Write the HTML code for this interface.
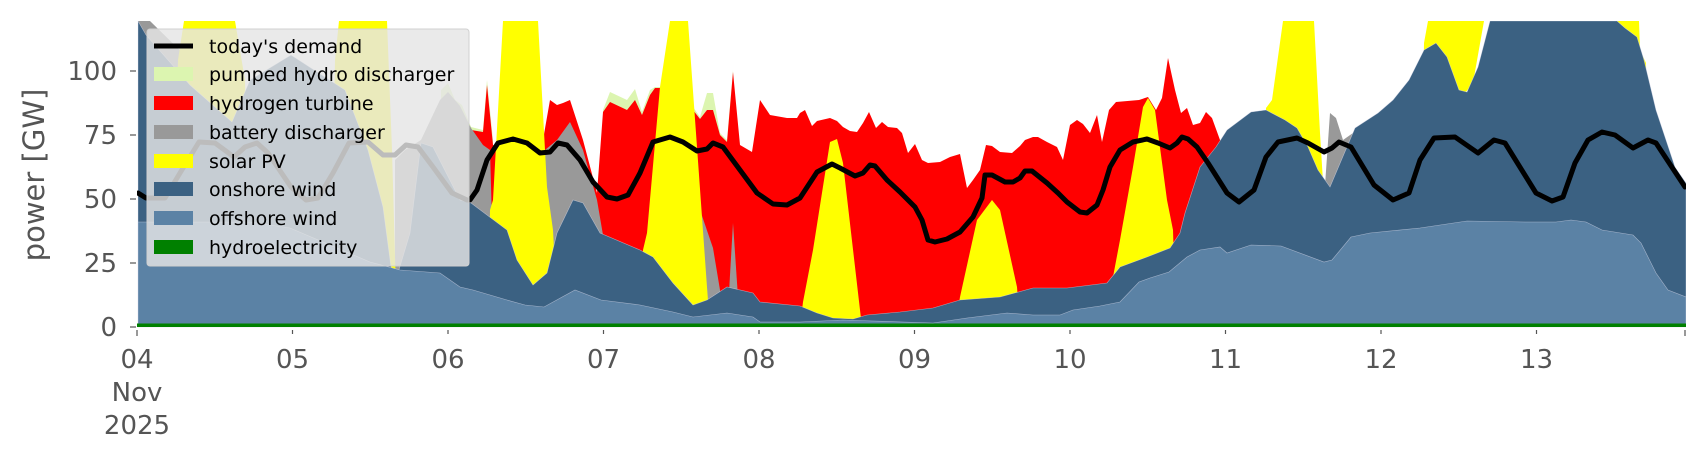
<!DOCTYPE html>
<html><head><meta charset="utf-8"><style>
html,body{margin:0;padding:0;background:#fff;}
svg{display:block;}
text{font-family:"DejaVu Sans","Liberation Sans",sans-serif;}
</style></head><body>
<svg width="1706" height="460" viewBox="0 0 1706 460" xmlns="http://www.w3.org/2000/svg">
<defs><clipPath id="c"><rect x="137" y="21" width="1549" height="310"/></clipPath></defs>
<g clip-path="url(#c)">
<g fill="#dcf5b0">
<polygon points="440,327 441,90 448,83 455,100 462,105 471,127 483,130 487,80 493,140 493,327"/>
<polygon points="603,327 603,110 610,92 627,100 635,89 642,112 650,90 655,87 662,87 662,327"/>
<polygon points="693,327 693,107 700,117 707,93 713,93 720,133 727,140 733,70 740,327"/>
</g>
<polygon fill="#ff0000" points="440,327 440,115 448,100 455,110 462,112 471,130 483,132 487,85 493,145 500,150 543,140 550,100 557,105 563,103 570,100 583,140 597,193 603,112 610,102 627,110 635,100 642,115 650,95 655,88 662,88 670,90 693,110 700,119 707,110 713,110 720,135 727,142 733,72 740,145 752,152 760,100 770,115 787,118 797,118 800,113 805,110 812,126 817,121 830,118 837,121 843,127 850,131 857,132 863,123 869,112 876,128 882,122 888,127 897,128 902,133 908,153 915,144 922,160 928,163 940,162 950,157 960,154 967,188 973,180 980,170 986,145 992,146 1000,152 1012,153 1020,146 1025,140 1033,137 1038,137 1047,142 1057,147 1063,160 1070,125 1077,120 1083,124 1090,133 1097,115 1102,142 1109,110 1116,102 1139,100 1148,97 1156,110 1162,98 1168,58 1175,90 1181,113 1187,108 1193,125 1200,123 1206,112 1212,118 1220,140 1226,145 1226,327"/>
<g fill="#999999">
<polygon points="138,327 138,21 150,21 200,70 237,110 245,327"/>
<polygon points="395,327 395,160 405,150 421,140 440,100 448,92 460,106 471,128 483,145 490,150 495,327"/>
<polygon points="540,327 545,150 557,140 570,122 583,150 597,200 603,235 610,327"/>
<polygon points="697,327 700,210 713,248 720,290 725,327"/>
<polygon points="727,327 733,223 740,327"/>
<polygon points="1320,327 1324,200 1330,113 1336,118 1343,140 1353,133 1360,327"/>
</g>
<g fill="#ffff00">
<polygon points="170,327 178,60 184,21 235,21 245,80 250,327"/>
<polygon points="330,327 335,60 339,21 387,21 392,150 397,327"/>
<polygon points="488,327 490,210 493,200 503,21 538,21 547,187 553,230 558,327"/>
<polygon points="640,327 643,250 647,233 660,87 670,21 688,21 697,147 707,287 710,327"/>
<polygon points="800,327 803,302 813,250 830,142 837,139 843,163 860,310 862,327"/>
<polygon points="955,327 960,297 977,220 992,200 1000,210 1017,287 1020,327"/>
<polygon points="1110,327 1113,277 1120,240 1133,167 1143,107 1148,98 1155,110 1167,200 1173,230 1176,327"/>
<polygon points="1262,327 1266,108 1272,100 1283,21 1314,21 1320,133 1324,198 1330,197 1332,327"/>
<polygon points="1420,327 1424,43 1428,21 1484,21 1473,83 1465,93 1460,327"/>
<polygon points="1612,327 1615,21 1639,21 1640,50 1646,63 1650,327"/>
</g>
<polygon fill="#3b6182" stroke="#dde" stroke-width="0.6" stroke-opacity="0.6" points="138,327 138,21 146,35 190,85 232,122 250,80 291,55 345,90 368,150 383,207 391,267 398,273 410,233 421,143 433,147 460,200 471,203 507,230 517,260 533,285 547,273 557,233 573,200 583,203 600,233 640,250 653,257 673,283 693,305 707,300 727,287 753,293 760,302 800,306 817,313 833,318 853,319 867,315 900,312 933,308 960,300 1000,297 1033,288 1067,288 1107,283 1120,267 1147,257 1170,248 1180,233 1185,213 1200,167 1216,147 1227,130 1251,112 1266,110 1285,120 1297,128 1308,147 1318,170 1330,187 1355,128 1378,113 1393,100 1409,80 1424,50 1436,43 1447,57 1459,90 1467,92 1478,67 1490,21 1617,21 1625,28 1637,37 1644,60 1656,110 1675,167 1686,183 1686,327"/>
<polygon fill="#5b82a5" stroke="#dde" stroke-width="0.6" stroke-opacity="0.6" points="138,327 138,222 250,222 290,228 330,245 370,262 400,270 440,273 460,287 473,290 507,300 525,305 544,307 575,290 601,300 640,305 673,312 693,317 727,313 753,317 760,322 800,322 843,320 933,323 967,318 1007,313 1033,315 1060,315 1073,310 1100,306 1120,302 1139,282 1150,278 1169,272 1187,257 1200,250 1220,247 1227,253 1251,245 1281,246 1324,262 1332,260 1351,237 1370,233 1420,228 1467,221 1525,222 1556,222 1571,220 1586,222 1602,230 1633,235 1641,243 1656,273 1668,290 1686,297 1686,327"/>
<rect x="137" y="323.5" width="1549" height="3.5" fill="#008000"/>
<polyline fill="none" stroke="#000" stroke-width="5" stroke-linejoin="round" stroke-linecap="round" points="138,193 146,198 165,198 180,173 199,142 215,143 234,157 245,147 257,143 268,153 291,187 306,200 318,198 333,173 349,143 368,142 383,155 395,155 406,145 418,147 433,167 452,193 467,200 470,200 477,190 487,160 498,143 513,139 527,143 540,153 550,152 558,143 567,145 580,160 593,182 607,197 617,199 628,195 640,173 653,142 670,137 683,142 697,151 707,149 713,143 723,147 740,170 757,193 773,204 787,205 800,198 817,172 832,164 840,168 855,176 863,173 870,165 875,166 887,180 900,192 915,207 922,220 928,240 935,242 947,239 960,232 973,217 982,198 985,175 992,175 1005,182 1013,182 1020,178 1025,171 1032,171 1047,183 1058,193 1067,202 1080,212 1087,213 1097,205 1103,190 1110,167 1120,150 1133,142 1147,139 1158,143 1170,148 1177,143 1182,137 1188,139 1197,147 1208,163 1227,193 1239,202 1254,190 1266,157 1278,142 1297,138 1308,143 1324,152 1332,148 1339,142 1351,147 1374,185 1393,200 1409,193 1420,160 1434,138 1455,137 1478,153 1494,140 1505,143 1536,193 1552,201 1563,197 1575,163 1588,140 1602,132 1615,135 1633,148 1648,140 1656,143 1685,187"/>
</g>
<g stroke="#555" stroke-width="1.2">
<line x1="130" y1="327" x2="136" y2="327"/><line x1="130" y1="263" x2="136" y2="263"/><line x1="130" y1="199" x2="136" y2="199"/><line x1="130" y1="135" x2="136" y2="135"/><line x1="130" y1="71" x2="136" y2="71"/>
<line x1="137" y1="330" x2="137" y2="336"/><line x1="292.5" y1="330" x2="292.5" y2="334"/><line x1="448" y1="330" x2="448" y2="334"/><line x1="603.5" y1="330" x2="603.5" y2="334"/><line x1="759" y1="330" x2="759" y2="334"/><line x1="914.5" y1="330" x2="914.5" y2="334"/><line x1="1070" y1="330" x2="1070" y2="334"/><line x1="1225.5" y1="330" x2="1225.5" y2="334"/><line x1="1381" y1="330" x2="1381" y2="334"/><line x1="1536.5" y1="330" x2="1536.5" y2="334"/><line x1="1685" y1="330" x2="1685" y2="336"/>
</g>
<g fill="#555" font-size="26" text-anchor="end">
<text x="117" y="336">0</text><text x="117" y="272">25</text><text x="117" y="208">50</text><text x="117" y="144">75</text><text x="117" y="80">100</text>
</g>
<g fill="#555" font-size="26" text-anchor="middle">
<text x="137" y="368">04</text><text x="137" y="401">Nov</text><text x="137" y="434">2025</text>
<text x="292.5" y="368">05</text><text x="448" y="368">06</text><text x="603.5" y="368">07</text><text x="759" y="368">08</text><text x="914.5" y="368">09</text><text x="1070" y="368">10</text><text x="1225.5" y="368">11</text><text x="1381" y="368">12</text><text x="1536.5" y="368">13</text>
</g>
<text transform="translate(44,175) rotate(-90)" fill="#555" font-size="29" text-anchor="middle">power [GW]</text>
<rect x="147" y="29" width="322" height="237" rx="3" fill="#e5e5e5" fill-opacity="0.82" stroke="#d0d0d0" stroke-width="1"/>
<line x1="154" y1="46" x2="193" y2="46" stroke="#000" stroke-width="5"/>
<rect x="154" y="67" width="39" height="14" fill="#dcf5b0"/>
<rect x="154" y="96" width="39" height="14" fill="#ff0000"/>
<rect x="154" y="125" width="39" height="14" fill="#999999"/>
<rect x="154" y="154" width="39" height="14" fill="#ffff00"/>
<rect x="154" y="182" width="39" height="14" fill="#3b6182"/>
<rect x="154" y="211" width="39" height="14" fill="#5b82a5"/>
<rect x="154" y="240" width="39" height="14" fill="#008000"/>
<g font-size="19" fill="#000">
<text x="209" y="53">today's demand</text>
<text x="209" y="81">pumped hydro discharger</text>
<text x="209" y="110">hydrogen turbine</text>
<text x="209" y="139">battery discharger</text>
<text x="209" y="168">solar PV</text>
<text x="209" y="196">onshore wind</text>
<text x="209" y="225">offshore wind</text>
<text x="209" y="254">hydroelectricity</text>
</g>
</svg>
</body></html>
